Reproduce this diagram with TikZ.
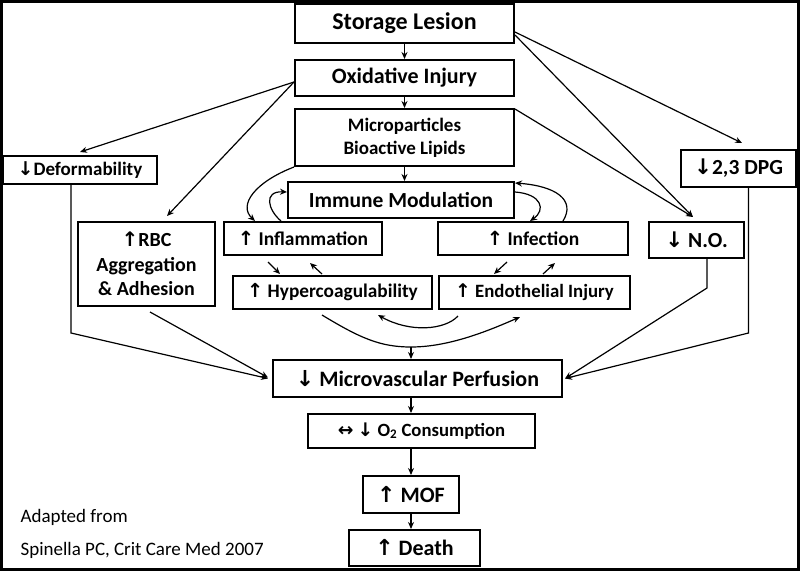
\documentclass[tikz,border=0pt]{standalone}
\usepackage{fontspec}
\setmainfont{Carlito}
\newfontfamily\pilfont{DejaVu Sans}
\usetikzlibrary{arrows.meta}

\tikzset{every picture/.style={line width=1.2pt}}
\tikzset{flow box/.style={draw, line width=2pt, inner sep=0pt, align=center, font=\bfseries\fontsize{19.5}{23}\selectfont}}
\tikzset{link/.style={-{Stealth[length=7pt,width=6pt]}}}
\newcommand{\opp}{{\pilfont ↑}}
\newcommand{\ned}{{\pilfont ↓}}
\newcommand{\begge}{{\pilfont ↔}}

\begin{document}
\begin{tikzpicture}[x=1pt,y=-1pt]
        \useasboundingbox (0,0) rectangle (800,571);
        \draw[line width=3pt] (1.5,1.5) rectangle (798.5,569.5);
        % middle column
        \node[flow box, minimum width=219pt, minimum height=39pt, font=\bfseries\fontsize{24}{26}\selectfont] (storage) at (404.5,23.5) {Storage Lesion};
        \node[flow box, minimum width=219pt, minimum height=36pt, font=\bfseries\fontsize{22}{24}\selectfont] (oxid) at (404.5,78) {Oxidative Injury};
        \node[flow box, minimum width=219pt, minimum height=57pt, font=\bfseries\fontsize{19}{23}\selectfont] (micro) at (404.5,137.5) {Microparticles\\Bioactive Lipids};
        \node[flow box, minimum width=226pt, minimum height=36pt, font=\bfseries\fontsize{21.5}{24}\selectfont] (immune) at (401,200) {Immune Modulation};
        \node[flow box, minimum width=158pt, minimum height=33pt] (inflam) at (303,238.5) {\opp{} Inflammation};
        \node[flow box, minimum width=190pt, minimum height=33pt] (infect) at (533,238.5) {\opp{} Infection};
        \node[flow box, minimum width=199pt, minimum height=33pt, font=\bfseries\fontsize{19.3}{22}\selectfont] (hyper) at (332.5,292.5) {\opp{} Hypercoagulability};
        \node[flow box, minimum width=191pt, minimum height=33pt, font=\bfseries\fontsize{18.8}{22}\selectfont] (endo) at (534.5,292.5) {\opp{} Endothelial Injury};
        % sides
        \node[flow box, minimum width=154pt, minimum height=28pt, font=\bfseries\fontsize{19}{22}\selectfont] (deform) at (80,170) {\ned{}Deformability};
        \node[flow box, minimum width=137pt, minimum height=84pt, font=\bfseries\fontsize{20}{24.5}\selectfont] (rbc) at (146.5,264) {\opp{}RBC\\Aggregation\\\& Adhesion};
        \node[flow box, minimum width=115pt, minimum height=37pt, font=\bfseries\fontsize{21.5}{24}\selectfont] (dpg) at (738.5,168.5) {\ned{}2,3 DPG};
        \node[flow box, minimum width=95pt, minimum height=36pt, font=\bfseries\fontsize{21.5}{24}\selectfont] (no) at (696.5,240) {\ned{} N.O.};
        % bottom
        \node[flow box, minimum width=289pt, minimum height=37pt, font=\bfseries\fontsize{22}{24}\selectfont] (perf) at (417.5,378.5) {\ned{} Microvascular Perfusion};
        \node[flow box, minimum width=227pt, minimum height=34pt, font=\bfseries\fontsize{18.7}{22}\selectfont] (otwo) at (421.5,431) {\begge{} \ned{} O\textsubscript{2} Consumption};
        \node[flow box, minimum width=96pt, minimum height=37pt, font=\bfseries\fontsize{22}{24}\selectfont] (mof) at (411,494.5) {\opp{} MOF};
        \node[flow box, minimum width=131pt, minimum height=36pt, font=\bfseries\fontsize{22}{24}\selectfont] (death) at (414.5,548) {\opp{} Death};
        \node[anchor=west, inner sep=0pt, font=\fontsize{19}{22}\selectfont] (adapted) at (20,517) {Adapted from};
        \node[anchor=west, inner sep=0pt, font=\fontsize{19}{22}\selectfont] (source) at (20,550) {Spinella PC, Crit Care Med 2007};

        \draw[link] (storage.south) -- (oxid.north);
        \draw[link] (oxid.south) -- (micro.north);
        \draw[link] (micro.south) -- (micro.south |- immune.north);
        \draw[link] ([yshift=-8.5pt]storage.east) -- ([xshift=3.5pt,yshift=6pt]dpg.north);
        \draw[link] ([yshift=-11.5pt]storage.east) -- ([xshift=-3.5pt,yshift=4pt]no.north);
        \draw[link] ([yshift=-1pt]micro.north east) -- ([xshift=-3.5pt,yshift=4pt]no.north);
        \draw[link] ([yshift=-4pt]oxid.west) -- ([yshift=3pt]deform.north);
        \draw[link] ([yshift=-4pt]oxid.west) -- ([xshift=20.5pt,yshift=5pt]rbc.north);
        % loops round immune modulation
        \draw[link] (micro.south west) .. controls (255,182) and (238,205) .. ([xshift=-48pt]inflam.north);
        \draw[link] ([xshift=-22pt]inflam.north) .. controls (268,210) and (263,191) .. ([yshift=8pt]immune.west);
        \draw[link] ([yshift=8pt]immune.east) .. controls (542,194) and (546,210) .. ([xshift=-3pt]infect.north);
        \draw[link] ([xshift=30pt]infect.north) .. controls (576,200) and (556,186) .. ([yshift=-2pt]immune.north east);
        \draw[link] ([xshift=-35pt,yshift=-6pt]inflam.south) -- ([xshift=-52.5pt,yshift=1pt]hyper.north);
        \draw[link] ([xshift=-10.5pt,yshift=1pt]hyper.north) -- ([xshift=7pt,yshift=-7pt]inflam.south);
        \draw[link] ([xshift=-26pt,yshift=-6pt]infect.south) -- ([xshift=-40.5pt,yshift=1pt]endo.north);
        \draw[link] ([xshift=8.5pt,yshift=1pt]endo.north) -- ([xshift=22pt,yshift=-7pt]infect.south);
        \coordinate (dip) at (411,347);
        \draw[link] ([xshift=-10.5pt,yshift=-5pt]hyper.south) .. controls (360,338) and (380,347) .. (dip) .. controls (450,347) and (490,330) .. ([xshift=-14.5pt,yshift=-7pt]endo.south);
        \draw[link] ([xshift=-76.5pt,yshift=-6pt]endo.south) .. controls (445,330) and (410,333) .. ([xshift=45.5pt,yshift=-5pt]hyper.south);
        \draw[link] (dip) -- (dip |- perf.north);
        % into perfusion
        \draw[link] ([xshift=-9pt]deform.south) -- ++(0,148) -- ([xshift=-4pt]perf.west);
        \draw[link] ([xshift=3.5pt,yshift=-5pt]rbc.south) -- ([xshift=-4pt,yshift=1pt]perf.west);
        \draw[link] ([xshift=10.5pt]no.south) -- ++(0,29) -- ([xshift=2pt]perf.east);
        \draw[link] ([xshift=10pt]dpg.south) -- ++(0,145) -- ([xshift=2pt]perf.east);
        \draw[link] (perf.south -| mof.north) -- (otwo.north -| mof.north);
        \draw[link] (otwo.south -| mof.north) -- (mof.north);
        \draw[link] (mof.south) -- (mof.south |- death.north);
    \end{tikzpicture}
\end{document}
